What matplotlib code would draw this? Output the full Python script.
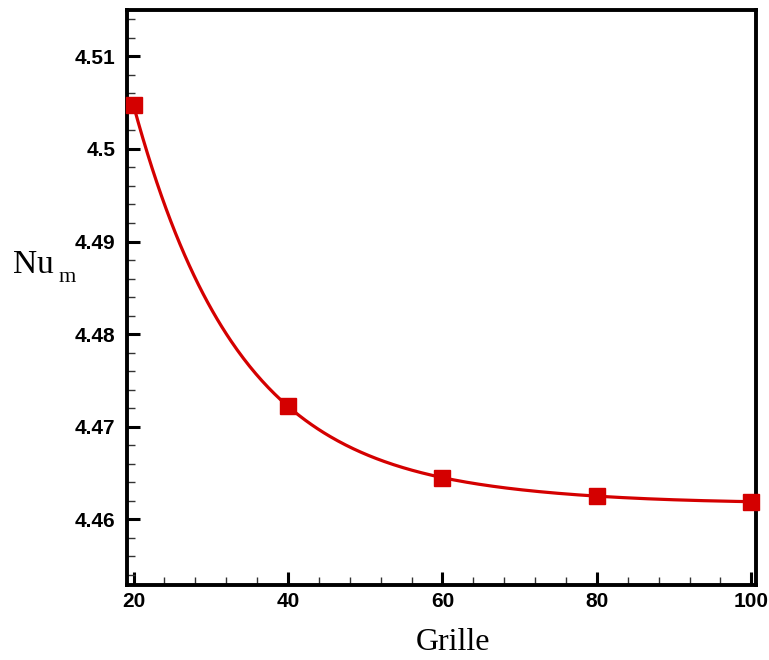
import matplotlib
matplotlib.use("Agg")
import matplotlib.pyplot as plt
import numpy as np
from matplotlib.ticker import MultipleLocator

# maillages testes et nombre de Nusselt moyen
grille = [20, 40, 60, 80, 100]
nu_m = [4.5047, 4.4722, 4.4645, 4.4625, 4.4619]

x_ticks = [20, 40, 60, 80, 100]
y_ticks = [4.46, 4.47, 4.48, 4.49, 4.50, 4.51]
y_tick_labels = ["4.46", "4.47", "4.48", "4.49", "4.5", "4.51"]


def spline_naturelle(x, y, xs):
    # spline cubique naturelle
    x = np.asarray(x, float)
    y = np.asarray(y, float)
    n = len(x)
    h = np.diff(x)
    A = np.zeros((n, n))
    b = np.zeros(n)
    A[0, 0] = 1
    A[-1, -1] = 1
    for i in range(1, n - 1):
        A[i, i - 1] = h[i - 1]
        A[i, i] = 2 * (h[i - 1] + h[i])
        A[i, i + 1] = h[i]
        b[i] = 6 * ((y[i + 1] - y[i]) / h[i] - (y[i] - y[i - 1]) / h[i - 1])
    M = np.linalg.solve(A, b)
    out = np.empty_like(xs)
    for k, t in enumerate(xs):
        i = min(max(np.searchsorted(x, t) - 1, 0), n - 2)
        a = x[i + 1] - t
        c = t - x[i]
        out[k] = (M[i] * a**3 + M[i + 1] * c**3) / (6 * h[i]) \
            + (y[i] / h[i] - M[i] * h[i] / 6) * a \
            + (y[i + 1] / h[i] - M[i + 1] * h[i] / 6) * c
    return out


def courbe_lisse(x, y, xs):
    # lissage sur log(y - y_asym) pour garder une courbe convexe
    y = np.asarray(y, float)
    c = y.min() - 0.0002
    return c + np.exp(spline_naturelle(x, np.log(y - c), xs))


red = "#d40000"

fig = plt.figure(figsize=(7.69, 6.60), dpi=100)
ax = fig.add_axes([0.1646, 0.1136, 0.8185, 0.8712])

xs = np.linspace(grille[0], grille[-1], 400)
ax.plot(xs, courbe_lisse(grille, nu_m, xs), color=red, lw=2.3, zorder=3)
ax.plot(grille, nu_m, "s", color=red, ms=11, zorder=4, clip_on=False)

ax.set_xlim(19.1, 100.6)
ax.set_ylim(4.4529, 4.5150)

ax.set_xticks(x_ticks)
ax.set_yticks(y_ticks)
ax.set_yticklabels(y_tick_labels)
ax.xaxis.set_minor_locator(MultipleLocator(4))
ax.yaxis.set_minor_locator(MultipleLocator(0.002))

ax.tick_params(which="major", direction="in", length=9.5, width=2.2,
               labelsize=15, top=False, right=False)
ax.tick_params(which="minor", direction="in", length=6, width=1.0,
               color="#333333", top=False, right=False)
ax.tick_params(axis="y", which="major", pad=8)
ax.tick_params(axis="x", which="major", pad=5)
for lab in ax.get_xticklabels() + ax.get_yticklabels():
    lab.set_fontweight("bold")
    lab.set_family("Liberation Sans")

for s in ax.spines.values():
    s.set_linewidth(2.8)

# titres des axes
fig.text(453 / 769, 1 - 650 / 660, "Grille", family="Liberation Serif",
         fontsize=23, ha="center", va="baseline")
fig.text(13 / 769, 1 - 273 / 660, "Nu", family="Liberation Serif",
         fontsize=24, ha="left", va="baseline")
fig.text(59 / 769, 1 - 282 / 660, "m", family="Liberation Serif",
         fontsize=16, ha="left", va="baseline")

fig.savefig("out.png", dpi=100)
